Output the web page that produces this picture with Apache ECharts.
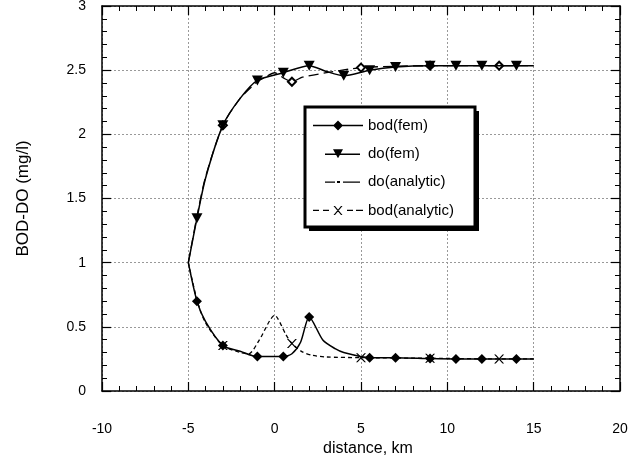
<!DOCTYPE html>
<html><head><meta charset="utf-8">
<script src="https://cdn.jsdelivr.net/npm/echarts@6/dist/echarts.min.js"></script>
<style>html,body{margin:0;padding:0;background:#fff}#c{width:642px;height:460px}</style>
</head><body><div id="c"></div>
<script>
// ---- data ----
const bodFemX = [-5, -4.5, -4, -3, -2, -1, 0.5, 1, 1.5, 2, 2.8, 3.5, 4, 5.5, 7, 9, 10.5, 12, 14, 15];
const bodFemY = [1.0, 0.70, 0.54, 0.354, 0.31, 0.268, 0.268, 0.29, 0.38, 0.577, 0.395, 0.33, 0.30, 0.26, 0.26, 0.253, 0.25, 0.25, 0.25, 0.25];
const bodFemMarkX = [-4.5, -3, -1, 0.5, 2, 5.5, 7, 9, 10.5, 12, 14];

const doFemX = [-5, -4.5, -4, -3, -2, -1, 0.5, 2, 3, 4, 5.5, 7, 9, 10.5, 12, 14, 15];
const doFemY = [1.0, 1.347, 1.66, 2.07, 2.28, 2.42, 2.48, 2.535, 2.49, 2.457, 2.50, 2.525, 2.535, 2.535, 2.535, 2.535, 2.535];
const doFemMarkX = [-4.5, -3, -1, 0.5, 2, 4, 5.5, 7, 9, 10.5, 12, 14];

const doAnaX = [-5, -4.5, -4, -3, -2, -1, -0.5, 0, 0.5, 1, 1.6, 3, 5, 7, 9, 13, 15];
const doAnaY = [1.0, 1.36, 1.67, 2.07, 2.28, 2.41, 2.45, 2.48, 2.44, 2.41, 2.445, 2.48, 2.52, 2.53, 2.535, 2.535, 2.535];
const doAnaMarkX = [-3, 1, 5, 9, 13];

const bodAnaX = [-5, -4.5, -4, -3, -2, -1.5, -0.9, 0, 0.65, 1, 1.6, 2.2, 3, 5, 9, 13, 15];
const bodAnaY = [1.0, 0.71, 0.53, 0.354, 0.30, 0.29, 0.395, 0.59, 0.44, 0.37, 0.305, 0.278, 0.265, 0.26, 0.255, 0.25, 0.25];
const bodAnaMarkX = [-3, 1, 5, 9, 13];

const seriesNames = ['bod(fem)', 'do(fem)', 'do(analytic)', 'bod(analytic)'];
const xMin = -10, xMax = 20, xStep = 5;
const yMin = 0, yMax = 3, yStep = 0.5;
const xTitle = 'distance, km';
const yTitle = 'BOD-DO (mg/l)';

// ---- build ----
const FONT = 'Liberation Sans, Arial, sans-serif';
function pts(xs, ys, marks) {
  return xs.map((x, i) => marks.indexOf(x) >= 0 ? [x, ys[i]] : { value: [x, ys[i]], symbol: 'none' });
}
const blk = { color: '#000', width: 1.5 };
const iconEnds = 'M0 5 L0 5 Z M50 5 L50 5 Z ';
const icons = {
  'bod(fem)': 'path://M0 4.3 L50 4.3 L50 5.7 L0 5.7 Z M20 5 L25 0 L30 5 L25 10 Z',
  'do(fem)': 'path://' + iconEnds + 'M12 4.3 L47 4.3 L47 5.7 L12 5.7 Z M20 0 L30 0 L25 9 Z',
  'do(analytic)': 'path://' + iconEnds + 'M12 4.3 L22 4.3 L22 5.7 L12 5.7 Z M24 4 L27 4 L27 6 L24 6 Z M30 4.3 L47 4.3 L47 5.7 L30 5.7 Z',
  'bod(analytic)': 'path://M0 4.3 L6 4.3 L6 5.7 L0 5.7 Z M10 4.3 L16 4.3 L16 5.7 L10 5.7 Z M34 4.3 L40 4.3 L40 5.7 L34 5.7 Z M43 4.3 L50 4.3 L50 5.7 L43 5.7 Z M20.5 0.5 L22 0.5 L29.5 9.5 L28 9.5 Z M28 0.5 L29.5 0.5 L22 9.5 L20.5 9.5 Z'
};
const crossPath = 'path://M0 0 L1.6 0 L10 10 L8.4 10 Z M8.4 0 L10 0 L1.6 10 L0 10 Z';

function xAx(pos, main) {
  return {
    type: 'value', min: xMin, max: xMax, interval: xStep, position: pos,
    axisLine: { show: true, onZero: false, lineStyle: blk },
    axisTick: { show: true, inside: true, length: 9, lineStyle: { color: '#000', width: 1.2 } },
    minorTick: { show: true, splitNumber: 5, length: 5, lineStyle: { color: '#000', width: 1 } },
    axisLabel: { show: main, margin: 31, fontSize: 14, color: '#000', fontFamily: FONT },
    splitLine: { show: main, lineStyle: { color: '#999', type: [2, 2], width: 1 } },
    name: main ? xTitle : '', nameLocation: 'middle', nameGap: 47,
    nameTextStyle: { fontSize: 16, color: '#000', fontFamily: FONT, padding: [0, 0, 0, 14] }
  };
}
function yAx(pos, main) {
  return {
    type: 'value', min: yMin, max: yMax, interval: yStep, position: pos,
    axisLine: { show: true, onZero: false, lineStyle: blk },
    axisTick: { show: true, inside: true, length: 9, lineStyle: { color: '#000', width: 1.2 } },
    minorTick: { show: true, splitNumber: 5, length: 5, lineStyle: { color: '#000', width: 1 } },
    axisLabel: { show: main, margin: 16, fontSize: 14, color: '#000', fontFamily: FONT, padding: [5, 0, 0, 0] },
    splitLine: { show: main, lineStyle: { color: '#999', type: [2, 2], width: 1 } },
    name: main ? yTitle : '', nameLocation: 'middle', nameGap: 70,
    nameTextStyle: { fontSize: 17, color: '#000', fontFamily: FONT }
  };
}

const option = {
  animation: false,
  backgroundColor: '#fff',
  grid: { left: 102, right: 22, top: 6, bottom: 69, containLabel: false, outerBoundsMode: 'none' },
  xAxis: [xAx('bottom', true), xAx('top', false)],
  yAxis: [yAx('left', true), yAx('right', false)],
  graphic: [
    { type: 'rect', z: 5, silent: true, shape: { x: 309, y: 111, width: 170, height: 120 }, style: { fill: '#000' } },
    { type: 'rect', z: 6, silent: true, shape: { x: 305, y: 107, width: 170, height: 120 }, style: { fill: '#fff', stroke: '#000', lineWidth: 3 } }
  ],
  legend: {
    z: 20,
    orient: 'vertical', left: 305, top: 107,
    itemWidth: 50, itemHeight: 10, itemGap: 13.3,
    padding: [11, 0, 0, 8],
    textStyle: { fontSize: 15, color: '#000', fontFamily: FONT },
    itemStyle: { color: '#000', borderWidth: 0 },
    selectedMode: false,
    data: seriesNames.map(n => ({ name: n, icon: icons[n] }))
  },
  series: [
    {
      name: seriesNames[3], type: 'line', data: pts(bodAnaX, bodAnaY, bodAnaMarkX), smooth: 0.25,
      symbol: crossPath, symbolSize: [10, 9], z: 2,
      lineStyle: { color: '#000', width: 1.3, type: [4, 3] }, itemStyle: { color: '#000' }
    },
    {
      name: seriesNames[2], type: 'line', data: pts(doAnaX, doAnaY, doAnaMarkX), smooth: 0.25,
      symbol: 'emptyDiamond', symbolSize: 8, z: 2,
      lineStyle: { color: '#000', width: 1.3, type: [10, 5] }, itemStyle: { color: '#000', borderWidth: 1 }
    },
    {
      name: seriesNames[0], type: 'line', data: pts(bodFemX, bodFemY, bodFemMarkX), smooth: 0.25,
      symbol: 'diamond', symbolSize: 10, z: 3,
      lineStyle: { color: '#000', width: 1.5 }, itemStyle: { color: '#000' }
    },
    {
      name: seriesNames[1], type: 'line', data: pts(doFemX, doFemY, doFemMarkX), smooth: 0.25,
      symbol: 'triangle', symbolRotate: 180, symbolSize: [11, 10], z: 3,
      lineStyle: { color: '#000', width: 1.5 }, itemStyle: { color: '#000' }
    }
  ]
};
const chart = echarts.init(document.getElementById('c'), null, { renderer: 'canvas' });
chart.setOption(option);
</script></body></html>
